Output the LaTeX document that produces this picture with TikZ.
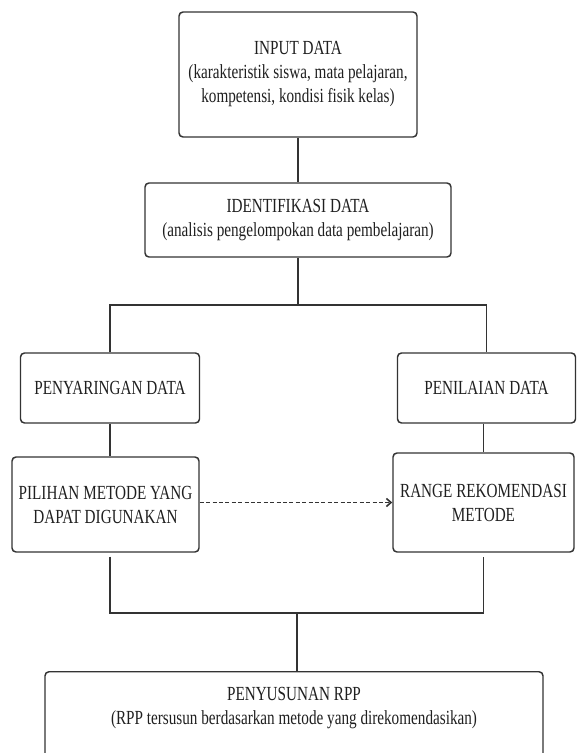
\documentclass[tikz,border=0pt]{standalone}
\usepackage{fontspec}
\setmainfont{Liberation Serif}[FakeStretch=0.76]
\usepackage{xcolor}
\usepackage{tikz}
\usetikzlibrary{calc,arrows.meta}
\definecolor{linegray}{HTML}{333333}
\definecolor{textgray}{HTML}{1F1F1F}

\begin{document}
\begin{tikzpicture}[x=0.75pt, y=-0.75pt,
  box/.style={draw=linegray, line width=1.1pt, rounded corners=3pt, align=center,
    inner sep=0pt, text=textgray, font=\fontsize{15}{18}\selectfont},
  link/.style={draw=linegray, line width=1.1pt}]
  \clip (0,0) rectangle (576,753);
  % Top of the flow
  \node[box, minimum width=178.5pt, minimum height=93.75pt] (inp) at (298,74.5)
    {INPUT DATA\\(karakteristik siswa, mata pelajaran,\\kompetensi, kondisi fisik kelas)};
  \node[box, minimum width=229.5pt, minimum height=55.5pt] (iden) at (298,220)
    {IDENTIFIKASI DATA\\(analisis pengelompokan data pembelajaran)};
  % Two branches
  \node[box, minimum width=134.25pt, minimum height=52.5pt] (sar) at (110,388) {PENYARINGAN DATA};
  \node[box, minimum width=133.5pt, minimum height=52.5pt] (nil) at (486.5,388) {PENILAIAN DATA};
  \node[box, minimum width=140.25pt, minimum height=71.25pt] (pil) at (105.5,504.5)
    {PILIHAN METODE YANG\\DAPAT DIGUNAKAN};
  \node[box, minimum width=135.75pt, minimum height=74.25pt] (rng) at (483.5,502.5)
    {RANGE REKOMENDASI\\METODE};
  % Bottom box runs past the lower edge
  \node[box, anchor=north, minimum width=373.5pt, inner sep=12pt, text depth=60pt] (rpp) at (294,671)
    {PENYUSUNAN RPP\\(RPP tersusun berdasarkan metode yang direkomendasikan)};
  \coordinate (split) at (298,305);
  \coordinate (join) at (297,613);
  % Connectors
  \draw[link] (inp) -- (iden);
  \draw[link] (iden) -- (split);
  \draw[link] (sar.north) |- (split) -| (nil.north);
  \draw[link] (sar.south) -- (sar.south |- pil.north);
  \draw[link] (nil.south -| rng.north) -- (rng.north);
  \draw[link, line width=1.2pt, dash pattern=on 3pt off 1.8pt, -{Straight Barb[length=3.5pt,width=6pt]}]
    (pil.east |- rng.west) -- (rng.west);
  \draw[link, shorten <=3pt, shorten >=3pt] (sar.south |- pil.south) |- (join) -| (rng.south);
  \draw[link] (join) -- (join |- rpp.north);
\end{tikzpicture}
\end{document}
